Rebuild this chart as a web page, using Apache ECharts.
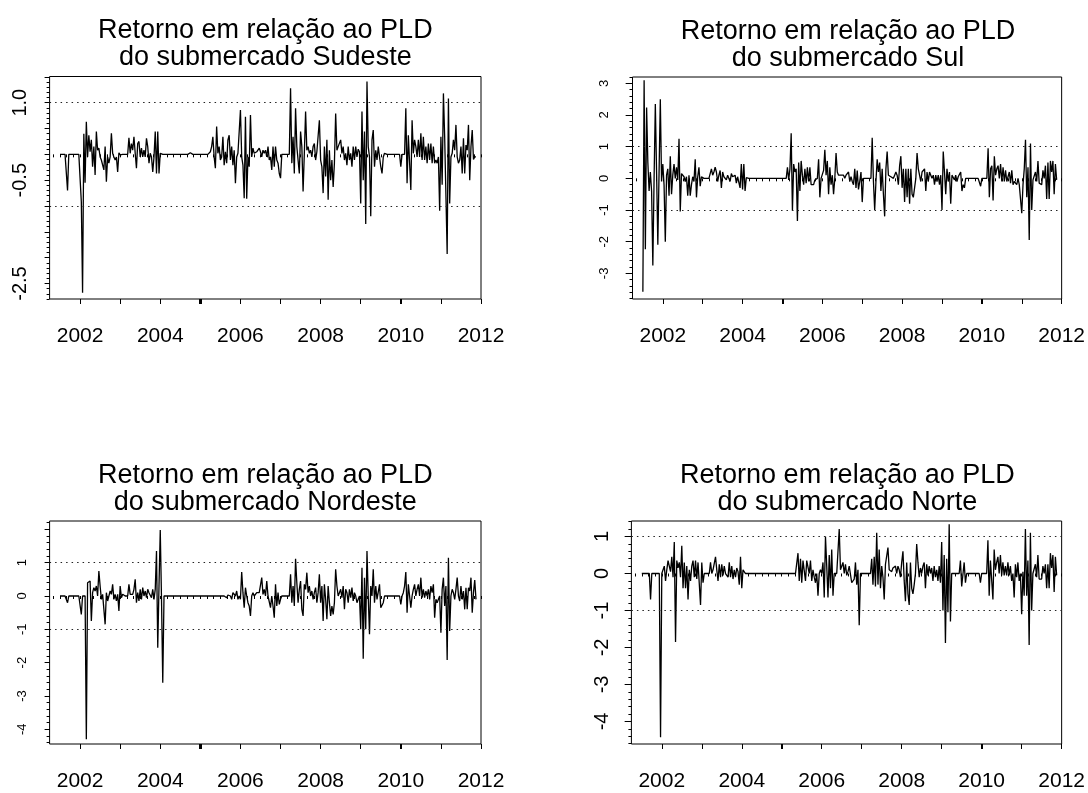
<!DOCTYPE html>
<html>
<head>
<meta charset="utf-8">
<script src="https://cdn.jsdelivr.net/npm/echarts@6/dist/echarts.min.js"></script>
<style>
html,body{margin:0;padding:0;background:#fff;}
#c{width:1088px;height:793px;}
</style>
</head>
<body>
<div id="c"></div>
<script>
// Weekly-return series, resampled at FREQ observations per year, starting at START
const FREQ = 32;
const START = 2001.5;

const xLabels = [2002, 2004, 2006, 2008, 2010, 2012];
const sudesteYLabels = [1.0, -0.5, -2.5];
const sulYLabels = [3, 2, 1, 0, -1, -2, -3];
const nordesteYLabels = [1, 0, -1, -2, -3, -4];
const norteYLabels = [1, 0, -1, -2, -3, -4];

const sudeste = [
 0,0,0,0,0,0,-0.70,0,0,0,0,0,0,0,0,0,0,
 -0.92,-2.68,0.40,-0.55,0.63,
 -0.05,0.37,0.05,0.28,-0.24,0.15,-0.40,0.44,0.08,0.12,-0.05,-0.11,-0.08,-0.30,0.15,-0.53,-0.05,-0.17,-0.05,0.41,0.02,-0.05,-0.11,-0.05,-0.34,0.03,-0.01,
 0,0,0,0,0,0,
 0.32,0.02,0.21,0.08,0.34,0.02,-0.27,0.21,0.25,-0.05,0.12,-0.05,0.08,-0.05,0.31,0.15,-0.17,0.02,-0.05,-0.34,-0.05,0.44,-0.37,0.44,-0.37,0.02,
 0,0,0,0,0,0,0,0,0,0,0,0,0,0,0,0,0,0,0,0,0,0,0,
 0.03,
 0,0,0,0,0,0,0,0,0,0,0,0,0,0,0,
 0.05,0.15,0.34,-0.05,-0.27,0.54,0.02,0.15,-0.11,-0.05,0.34,-0.21,0.05,-0.17,0.28,0.37,-0.11,0.15,-0.21,0.08,-0.56,-0.05,0.02,-0.01,0.86,-0.05,-0.21,-0.85,0.73,-0.86,-0.05,-0.24,0.76,-0.05,0.12,0.02,0.02,0.05,0.05,0.12,0.05,-0.05,0.08,0.02,0.08,-0.05,0.15,-0.11,-0.05,-0.30,0.15,-0.24,0.15,-0.11,-0.17,-0.37,-0.46,
 0,0,0,0,0,0,0,
 1.28,-0.17,0.34,-0.37,0.89,0.15,0.18,-0.37,0.44,0.15,-0.72,0.02,0.83,0.08,0.15,0.02,0.08,-0.05,0.15,0.21,-0.11,0.05,0.02,0.66,-0.11,-0.24,-0.75,0.15,-0.43,0.28,-0.88,0.08,-0.50,-0.11,-0.63,-0.17,0.79,0.08,0.15,0.12,0.28,0.02,0.15,-0.11,0.02,-0.21,0.15,-0.11,0.02,-0.24,0.15,-0.11,0.15,-0.05,0.10,0.05,
 -0.95,0.83,-0.50,0.44,-1.35,1.41,0.15,-0.05,-1.20,0.28,0.47,-0.24,0.08,-0.11,0.15,-0.05,-0.24,-0.37,-0.05,0.02,
 0,0,0,0,0,0,0,0,0,0,0,0,
 -0.24,0,0,0,
 0.89,-0.56,0.37,0.34,-0.69,0.66,0.02,0.28,0.15,-0.05,0.28,-0.05,0.41,-0.11,0.34,-0.11,0.15,-0.17,0.21,-0.11,0.21,-0.17,0.15,-0.17,-0.11,-0.17,-0.05,-1.09,0.34,-0.59,1.18,0.34,0.34,-1.93,1.08,-0.95,-0.05,0.02,0.28,0.08,0.57,-0.05,-0.17,-0.11,0.15,-0.37,0.31,-0.37,0.18,0.08,0.57,-0.50,0.15,0.47,-0.10,-0.05,-0.05
];

const sul = [
 -3.58,3.10,-2.24,2.24,0.50,-0.40,0.20,-0.40,-2.75,0.00,2.35,0.20,-2.10,0.20,2.50,-0.10,0.45,-0.20,-2.00,0.10,0.30,-0.55,0.70,-0.50,0.10,0.45,0.00,0.35,-0.05,1.25,-1.05,0.15,0.10,0.05,-0.10,0.05,-0.55,0.10,-0.55,-0.20,0.05,-0.10,0.60,-0.60,0.05,0.35,-0.25,0.05,0.02,
 0,0.02,0,0,0,0,
 0.30,0.10,0.20,0.35,
 0.20,-0.10,0.10,0.25,-0.30,0.20,0.05,0.10,-0.05,0.10,0.15,-0.10,0.15,0.05,0.05,0.10,-0.15,0.05,0.05,-0.30,0.45,-0.35,0.45,-0.40,0.02,
 0,0,0,0,0,0,0,0,0,0,0,0,0,0,0,0,0,0,0,0,
 0.03,
 0,0,0,0,0,0,0,0,0,0,0,
 0.35,-0.05,0.30,1.42,-1.02,0.45,0.20,0.30,-1.35,0.50,-0.40,0.55,0.10,-0.20,0.30,-0.15,0.35,-0.10,0.35,-0.20,-0.15,-0.20,-0.05,0.00,0.00,0.60,-0.60,0.00,0.05,0.25,0.90,0.10,0.55,-0.50,0.35,-0.20,0.10,-0.50,0.00,0.80,0.20,0.10,0.05,0.10,0.05,0.10,0.00,0.10,0.05,0.20,-0.10,0.05,-0.10,-0.20,0.30,-0.30,0.25,-0.35,-0.10,0.20,-0.75,0.00,
 0,0,0,0,0,0,
 1.28,-0.10,-1.00,-0.10,0.60,0.20,0.50,-0.40,0.30,-0.50,-1.20,0.30,0.85,0.10,0.15,0.05,0.10,0.00,0.10,0.20,0.10,-0.20,0.40,0.70,-0.30,0.30,-0.75,0.30,-0.60,0.30,-0.80,0.30,-0.50,-0.60,
 -0.30,0.00,0.80,0.30,0.10,-0.10,0.20,0.20,0.30,-0.40,0.20,-0.10,0.20,0.10,0.00,0.10,-0.20,0.10,-0.10,0.10,-0.20,0.10,-1.00,0.85,0.20,-0.50,0.30,-0.10,0.20,-0.80,0.10,0.10,-0.05,0.10,-0.10,0.05,0.10,0.20,-0.40,-0.20,-0.30,
 0,0,0,0,0,0,0,0,0,0,0,0,
 -0.25,0,0,0,0,
 0.00,0.95,-0.60,0.30,0.40,-0.70,0.70,0.10,0.30,0.40,0.00,0.45,-0.10,0.35,-0.10,0.25,-0.10,-0.05,0.20,-0.15,0.25,-0.20,-0.10,-0.15,-0.20,0.00,-0.20,-0.20,-1.10,-0.20,0.30,1.22,-0.60,0.35,-1.95,1.10,-1.00,-0.05,0.00,0.20,-0.10,0.55,-0.15,-0.10,-0.20,0.25,0.00,0.40,-0.65,0.50,-0.65,0.55,0.20,0.55,-0.50,0.45,-0.05
];

const nordeste = [
 0,0,0,0,0,0,-0.20,0,0,0,0,0,0,0,0,0,0,
 -0.55,0,0,0,-4.30,
 0.40,0.35,0.45,-0.75,0.10,0.25,0.15,0.30,0.00,0.75,
 0.30,-0.10,0.05,0.10,-0.85,0.10,-0.15,-0.10,0.15,0.05,0.35,-0.10,0.05,-0.15,0.05,-0.45,0.30,-0.05,0.05,0.00,
 0,0,0,
 0.35,0.05,0.10,0.05,0.20,0.50,-0.20,0.10,-0.15,0.20,-0.10,0.25,0.00,0.15,-0.05,0.20,0.10,0.15,-0.05,0.20,-0.10,0.20,1.35,-1.55,0.30,1.98,-0.10,-2.60,0.00,
 0,0,0,0,0,0,0,0,0,0,0,0,0,0,0,0,0,0,0,0,0,0,0,0,0,0,0,0,0,0,0,0,0,0,0,0,0,0,0,0,0,0,0,0,0,0,0,0,
 0.05,-0.05,0.03,0.00,0.00,-0.10,0.10,0.05,0.00,0.15,-0.10,0.00,-0.10,0.72,0.10,-0.35,0.25,0.00,-0.20,-0.30,-0.60,0.00,0.10,0.00,0.05,0.10,0.05,0.10,
 0.15,0.55,0.05,0.20,0.00,0.45,0.00,0.05,-0.35,0.00,-0.30,-0.65,0.35,-0.30,0.10,-0.25,-0.10,0.00,
 0,0,0,0,0,0,
 0.65,-0.20,0.30,-0.30,1.12,0.40,-0.20,0.20,0.45,-0.40,-0.60,0.35,0.20,0.70,0.10,0.30,0.00,0.15,-0.10,0.10,0.25,-0.20,0.10,0.65,-0.20,0.30,-0.75,0.35,-0.10,-0.70,0.30,-0.20,-0.60,-0.30,-0.55,-0.20,0.80,
 0.30,0.00,0.10,0.20,-0.05,0.30,-0.40,0.20,0.10,-0.20,0.20,-0.05,0.25,-0.15,0.10,0.00,-0.20,-0.10,0.00,-1.00,0.85,-1.88,0.55,-1.00,1.35,0.00,-1.15,0.30,0.00,0.80,-0.20,0.30,-0.10,-0.15,0.35,-0.35,-0.30,-0.20,0.00,
 0,0,0,0,0,0,0,0,0,0,0,0,
 -0.25,
 0.00,0.10,0.30,0.72,
 -0.50,0.35,0.30,-0.35,0.00,0.20,0.35,0.00,0.20,0.35,0.00,0.55,-0.05,0.20,-0.05,0.15,0.00,0.20,-0.10,0.30,0.10,0.35,-0.65,-0.10,-0.20,-0.10,0.00,-1.10,0.20,0.55,-0.30,0.30,-1.92,1.15,-1.05,0.00,0.20,0.10,-0.10,0.20,0.55,0.00,-0.15,0.30,-0.10,0.15,-0.40,0.25,-0.40,0.25,0.15,0.55,-0.50,0.10,0.48,-0.10
];

const norte = [
 0,0,0,0,0,0,0,-0.70,0,0,0,0,0,0,0,-4.43,
 0.00,0.00,0.20,-0.20,0.10,0.35,0.40,0.05,0.45,-0.10,0.85,-1.85,0.35,0.15,0.30,-0.10,0.75,-0.40,0.30,-0.40,0.20,-0.70,0.10,-0.20,0.20,0.35,-0.10,0.35,-0.15,0.30,0.30,-0.85,0.30,-0.25,0.00,
 0,0,0,0,
 0.30,0.00,0.10,0.10,0.45,0.10,-0.20,0.25,-0.10,0.25,-0.05,0.20,0.00,0.05,-0.10,0.30,-0.10,0.20,-0.15,0.10,-0.10,0.15,0.05,-0.30,0.45,-0.40,0.10,0.05,
 0,0,0,0,0,0,0,0,0,0,0,0,0,0,0,0,0,0,0,0,0,
 0.03,
 0,0,0,0,0,0,0,0,0,0,0,0,0,0,0,0,0,0,0,
 0.00,0.55,-0.20,0.40,-0.25,0.35,0.30,-0.20,0.35,0.40,0.00,0.35,-0.20,0.10,-0.10,-0.25,0.00,-0.60,0.00,0.10,0.00,0.30,-0.65,1.00,0.20,-0.65,0.50,-0.40,0.65,-0.60,0.00,0.00,0.00,0.00,
 1.20,0.10,0.05,0.30,0.00,0.25,-0.05,0.05,0.20,0.25,-0.25,-0.30,-0.15,0.30,-0.30,0.10,-1.40,0.00,
 0,0,0,0,0,0,0,0,
 0.40,-0.30,0.45,-0.35,1.10,-0.30,0.65,-0.40,0.20,-0.10,-0.70,0.25,0.20,0.70,0.10,0.15,0.05,0.15,0.10,0.20,0.00,0.20,0.10,-0.10,0.30,0.60,-0.20,-0.75,0.30,-0.55,-0.85,0.30,-0.40,-0.55,-0.30,0.00,0.80,
 0.30,-0.10,0.15,0.00,0.20,0.30,-0.40,0.25,-0.05,0.20,0.00,0.15,-0.20,0.20,-0.10,0.10,-0.20,0.20,-0.25,0.85,-1.00,0.50,-1.88,0.40,-1.05,1.33,-1.30,0.00,
 0,0,0,0,0,0,
 0.35,-0.35,-0.30,0.30,-0.25,
 0,0,0,0,0,0,0,0,0,0,0,
 -0.25,0,0,0,0,
 0.00,0.90,-0.60,0.35,0.40,-0.70,0.65,0.10,0.30,0.45,0.00,0.50,-0.05,0.30,-0.05,0.20,-0.05,0.30,-0.05,0.20,-0.20,0.00,-0.65,0.25,-0.10,0.30,-0.20,0.00,-1.10,0.05,-0.60,1.20,-0.60,0.35,-1.93,1.10,-1.00,0.00,0.05,0.25,-0.10,0.50,-0.15,-0.10,-0.15,0.20,0.00,0.25,-0.40,0.25,-0.40,0.55,0.15,0.50,-0.50,0.45,-0.05
];

const FONT = '"Liberation Sans", Arial, Helvetica, sans-serif';
const X_MIN = 2001.24, X_MAX = 2012.0;

function tickList(a, b, s) {
  const out = [];
  const start = Math.ceil((a - 1e-9) / s) * s;
  for (let v = start; v <= b + 1e-9; v += s) out.push(+v.toFixed(4));
  return out;
}
const xMinorTicks = tickList(X_MIN, X_MAX, 1 / 6);
const xYearTicks = tickList(2002, 2012, 1).concat([2004.985, 2005.015, 2009.985, 2010.015]);

const panels = [
  {name: 'Sudeste', vals: sudeste, yMin: -2.80, yMax: 1.507, labels: sudesteYLabels, dec: 1, minor: 0.1, major: 0.5, yFont: 20, yMargin: 19, box: [49.6, 76.5, 431.4, 222.5]},
  {name: 'Sul', vals: sul, yMin: -3.81, yMax: 3.20, labels: sulYLabels, dec: 0, minor: 0.2, major: 1, yFont: 13, yMargin: 22, box: [632.5, 77, 431, 222]},
  {name: 'Nordeste', vals: nordeste, yMin: -4.44, yMax: 2.25, labels: nordesteYLabels, dec: 0, minor: 0.2, major: 1, yFont: 13, yMargin: 21, box: [49.6, 521, 431.4, 223]},
  {name: 'Norte', vals: norte, yMin: -4.61, yMax: 1.42, labels: norteYLabels, dec: 0, minor: 0.2, major: 1, yFont: 20, yMargin: 19, box: [631.4, 521, 432, 223]}
];

const grid = [], xAxis = [], yAxis = [], series = [], title = [];
panels.forEach((p, i) => {
  const [l, t, w, h] = p.box;
  grid.push({left: l, top: t, width: w, height: h, show: true, borderColor: '#000', borderWidth: 1, backgroundColor: 'transparent', containLabel: false});
  title.push({
    text: 'Retorno em relação ao PLD\ndo submercado ' + p.name,
    left: l + w / 2, top: t - 59, textAlign: 'center', padding: 0,
    textStyle: {fontFamily: FONT, fontSize: 27, lineHeight: 27, fontWeight: 'normal', color: '#000'}
  });
  const tickStyle = {color: '#000', width: 1};
  xAxis.push({
    gridIndex: i, type: 'value', min: X_MIN, max: X_MAX, position: 'bottom',
    axisLine: {show: false}, splitLine: {show: false},
    axisTick: {show: true, customValues: xMinorTicks, length: 3, lineStyle: tickStyle},
    axisLabel: {show: true, customValues: xLabels, margin: 27, fontSize: 21, color: '#000', fontFamily: FONT, formatter: v => String(Math.round(v))}
  });
  xAxis.push({
    gridIndex: i, type: 'value', min: X_MIN, max: X_MAX, position: 'top', offset: -h,
    axisLine: {show: false}, splitLine: {show: false},
    axisTick: {show: true, inside: true, customValues: xYearTicks, length: 5, lineStyle: tickStyle},
    axisLabel: {show: false}
  });
  yAxis.push({
    gridIndex: i, type: 'value', min: p.yMin, max: p.yMax, position: 'left',
    axisLine: {show: false}, splitLine: {show: false},
    axisTick: {show: true, customValues: tickList(p.yMin, p.yMax, p.minor), length: 3, lineStyle: tickStyle},
    axisLabel: {show: true, customValues: p.labels, rotate: 90, margin: p.yMargin, fontSize: p.yFont, color: '#000', fontFamily: FONT, formatter: v => Number(v).toFixed(p.dec)}
  });
  yAxis.push({
    gridIndex: i, type: 'value', min: p.yMin, max: p.yMax, position: 'right', offset: -w,
    axisLine: {show: false}, splitLine: {show: false},
    axisTick: {show: true, inside: true, customValues: tickList(p.yMin, p.yMax, p.major), length: 5, lineStyle: tickStyle},
    axisLabel: {show: false}
  });
  series.push({
    type: 'line', xAxisIndex: 2 * i, yAxisIndex: 2 * i,
    data: p.vals.map((v, k) => [START + k / FREQ, v]),
    showSymbol: false, symbol: 'none', clip: true,
    lineStyle: {color: '#000', width: 1.3},
    markLine: {
      silent: true, symbol: 'none', label: {show: false},
      lineStyle: {type: [1.5, 4], color: '#222', width: 1},
      data: [{yAxis: 1}, {yAxis: -1}]
    }
  });
});

const chart = echarts.init(document.getElementById('c'), null, {renderer: 'canvas'});
chart.setOption({animation: false, backgroundColor: '#fff', title, grid, xAxis, yAxis, series});
</script>
</body>
</html>
